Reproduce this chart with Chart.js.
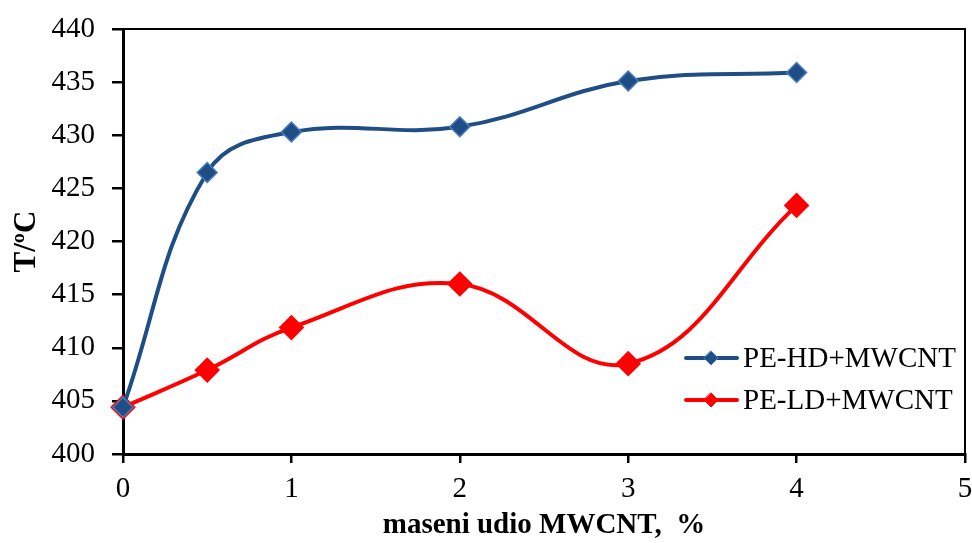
<!DOCTYPE html>
<html><head><meta charset="utf-8">
<script src="https://cdn.jsdelivr.net/npm/chart.js@4/dist/chart.umd.min.js"></script>
<style>html,body{margin:0;padding:0;background:#fff}#wrap{width:972px;height:543px}</style>
</head><body><div id="wrap"><canvas id="c" width="972" height="543"></canvas></div>
<script>
const xValues = [0, 0.5, 1, 2, 3, 4];
const hdValues = [404.4, 426.5, 430.3, 430.8, 435.1, 435.9];
const ldValues = [404.4, 407.9, 411.9, 416.0, 408.5, 423.4];
const seriesNames = ['PE-HD+MWCNT', 'PE-LD+MWCNT'];
const xTitle = 'maseni udio MWCNT,  %';
const yTitle = 'T/\u00BAC';

const FONT = "'Liberation Serif', 'Times New Roman', serif";
const HD_COLOR = '#1F4E86';
const HD_EDGE = '#4A7EBB';
const LD_COLOR = '#FF0000';

const toPts = (ys) => xValues.map((x, i) => ({x: x, y: ys[i]}));

const frame = {
  id: 'frame',
  afterDatasetsDraw(chart) {
    const {ctx, chartArea: a} = chart;
    ctx.save();
    ctx.strokeStyle = '#000';
    ctx.lineWidth = 2;
    ctx.beginPath();
    ctx.moveTo(a.left, a.top); ctx.lineTo(a.right, a.top); ctx.lineTo(a.right, a.bottom);
    ctx.stroke();
    ctx.restore();
  }
};

const legendBox = {
  id: 'legendBox',
  afterDraw(chart) {
    const ctx = chart.ctx;
    const items = [
      {label: seriesNames[0], color: HD_COLOR, edge: HD_EDGE, y: 358},
      {label: seriesNames[1], color: LD_COLOR, edge: LD_COLOR, y: 400}
    ];
    ctx.save();
    items.forEach(it => {
      ctx.strokeStyle = it.color;
      ctx.lineWidth = 4;
      ctx.lineCap = 'round';
      ctx.beginPath(); ctx.moveTo(686, it.y); ctx.lineTo(737, it.y); ctx.stroke();
      const r = 7;
      ctx.fillStyle = it.color; ctx.strokeStyle = it.edge; ctx.lineWidth = 1;
      ctx.beginPath();
      ctx.moveTo(711, it.y - r); ctx.lineTo(711 + r, it.y); ctx.lineTo(711, it.y + r); ctx.lineTo(711 - r, it.y); ctx.closePath();
      ctx.fill(); ctx.stroke();
      ctx.fillStyle = '#000';
      ctx.font = '29px ' + FONT;
      ctx.textBaseline = 'middle';
      ctx.textAlign = 'left';
      ctx.fillText(it.label, 743, it.y + 1);
    });
    ctx.restore();
  }
};

new Chart(document.getElementById('c'), {
  type: 'line',
  data: {
    datasets: [
      {label: seriesNames[0], data: toPts(hdValues), borderColor: HD_COLOR, backgroundColor: HD_COLOR,
       pointBorderColor: HD_EDGE, pointBorderWidth: 1.5, borderWidth: 4, pointStyle: 'rectRot', pointRadius: 10,
       tension: 0.4, clip: false},
      {label: seriesNames[1], data: toPts(ldValues), borderColor: LD_COLOR, backgroundColor: LD_COLOR,
       pointBorderColor: LD_COLOR, borderWidth: 4, pointStyle: 'rectRot', pointRadius: 10,
       tension: 0.4, clip: false}
    ]
  },
  options: {
    responsive: false,
    animation: false,
    layout: {autoPadding: false, padding: {left: 0, right: 7, top: 29, bottom: 0}},
    plugins: {legend: {display: false}, tooltip: {enabled: false}},
    scales: {
      x: {
        type: 'linear', min: 0, max: 5,
        ticks: {stepSize: 1, color: '#000', font: {family: FONT, size: 29}, padding: 9, maxRotation: 0},
        grid: {drawOnChartArea: false, tickLength: 9, color: '#000', lineWidth: 2.5},
        border: {color: '#000', width: 3},
        title: {display: true, text: xTitle, color: '#000', font: {family: FONT, size: 29, weight: 'bold'}, padding: {top: 0, bottom: 0}},
        afterFit(s) { s.height = 89; s.paddingLeft = 0; s.paddingRight = 0; }
      },
      y: {
        min: 400, max: 440,
        ticks: {stepSize: 5, color: '#000', font: {family: FONT, size: 29}, padding: 17},
        grid: {drawOnChartArea: false, tickLength: 11, color: '#000', lineWidth: 2.5},
        border: {color: '#000', width: 3},
        title: {display: true, text: yTitle, color: '#000', font: {family: FONT, size: 31, weight: 'bold'}, padding: {top: 8, bottom: 0}},
        afterFit(s) { s.width = 123; s.paddingTop = 0; s.paddingBottom = 0; }
      }
    }
  },
  plugins: [frame, legendBox]
});
</script>
</body></html>
